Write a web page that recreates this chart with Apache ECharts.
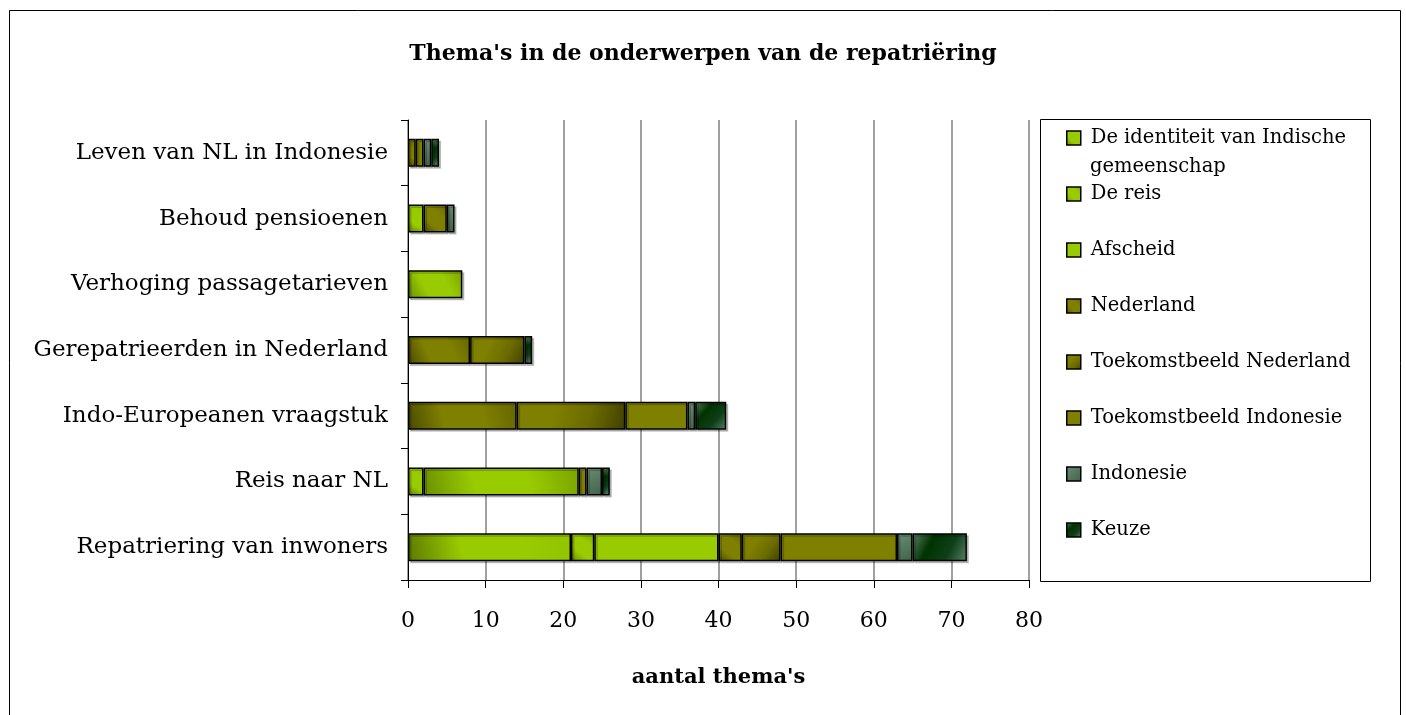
<!DOCTYPE html>
<html>
<head>
<meta charset="utf-8">
<script src="https://cdn.jsdelivr.net/npm/echarts@6/dist/echarts.min.js"></script>
<style>
  html, body { margin: 0; padding: 0; background: #fff; }
  #chart { width: 1406px; height: 715px; }
</style>
</head>
<body>
<div id="chart"></div>
<script>
// Onderwerpen (van onder naar boven)
const categories = [
  'Repatriering van inwoners',
  'Reis naar NL',
  'Indo-Europeanen vraagstuk',
  'Gerepatrieerden in Nederland',
  'Verhoging passagetarieven',
  'Behoud pensioenen',
  'Leven van NL in Indonesie'
];

// Aantal thema's per onderwerp, per thema (null = geen)
const identiteit     = [21,   2,    null, null, null, 2,    null];
const deReis         = [3,    20,   null, null, 7,    null, null];
const afscheid       = [16,   null, null, null, null, null, null];
const nederland      = [3,    null, 14,   8,    null, 3,    1];
const toekomstNL     = [5,    null, 14,   7,    null, null, null];
const toekomstIndo   = [15,   1,    8,    null, null, null, 1];
const indonesie      = [2,    2,    1,    null, null, 1,    1];
const keuze          = [7,    1,    4,    1,    null, null, 1];

const xTicks = { min: 0, max: 80, interval: 10 };

const serif = '"DejaVu Serif", "Liberation Serif", serif';

function grad(x, y, x2, y2, stops) {
  return new echarts.graphic.LinearGradient(x, y, x2, y2,
    stops.map((c, i) => ({ offset: i / (stops.length - 1), color: c })));
}

const seriesDefs = [
  { name: 'De identiteit van Indische gemeenschap', data: identiteit,
    color: grad(0, 1, 1, 0, ['#5c7a00', '#99cc00', '#99cc00', '#92c400']) },
  { name: 'De reis', data: deReis,
    color: grad(0, 1, 1, 0, ['#6b8f00', '#99cc00', '#99cc00', '#7aa300']) },
  { name: 'Afscheid', data: afscheid, color: '#99cc00' },
  { name: 'Nederland', data: nederland,
    color: grad(0, 1, 1, 0, ['#4a4a00', '#808000', '#808000', '#666600']) },
  { name: 'Toekomstbeeld Nederland', data: toekomstNL,
    color: grad(0, 0, 1, 1, ['#808000', '#808000', '#6b6b00', '#404000']) },
  { name: 'Toekomstbeeld Indonesie', data: toekomstIndo, color: '#808000' },
  { name: 'Indonesie', data: indonesie,
    color: grad(0, 0, 1, 1, ['#6a9076', '#54775d', '#40624a']) },
  { name: 'Keuze', data: keuze,
    color: grad(0, 0, 1, 1, ['#5a8266', '#003300', '#0e3f18', '#5a8266']) }
];

const series = seriesDefs.map(d => ({
  name: d.name,
  type: 'bar',
  stack: 'thema',
  barWidth: 28,
  data: d.data,
  itemStyle: {
    color: d.color,
    borderColor: '#000',
    borderWidth: 1.5,
    shadowColor: 'rgba(0,0,0,0.22)',
    shadowOffsetX: 2,
    shadowOffsetY: 2
  },
  emphasis: { disabled: true }
}));

const chart = echarts.init(document.getElementById('chart'), null, { renderer: 'canvas' });

chart.setOption({
  animation: false,
  backgroundColor: '#fff',
  title: {
    text: "Thema's in de onderwerpen van de repatriëring",
    left: 'center',
    top: 38,
    textStyle: { fontFamily: serif, fontSize: 22, fontWeight: 'bold', color: '#000' }
  },
  grid: { left: 408, right: 377, top: 120, bottom: 135, containLabel: false },
  xAxis: {
    type: 'value',
    min: xTicks.min,
    max: xTicks.max,
    interval: xTicks.interval,
    name: "aantal thema's",
    nameLocation: 'middle',
    nameGap: 87,
    nameTextStyle: { fontFamily: serif, fontSize: 21, fontWeight: 'bold', color: '#000' },
    axisLine: { show: true, lineStyle: { color: '#000', width: 1 } },
    axisTick: { show: true, inside: false, length: 8, lineStyle: { color: '#000' } },
    axisLabel: { fontFamily: serif, fontSize: 22, color: '#000', margin: 30 },
    splitLine: { show: true, lineStyle: { color: '#808080', width: 1.5 } }
  },
  yAxis: {
    type: 'category',
    data: categories,
    axisLine: { show: true, lineStyle: { color: '#000', width: 1 } },
    axisTick: { show: true, inside: false, length: 7, lineStyle: { color: '#000' } },
    axisLabel: { fontFamily: serif, fontSize: 23, color: '#000', margin: 20 },
    splitLine: { show: false }
  },
  legend: {
    orient: 'vertical',
    left: 1066,
    top: 127,
    padding: 0,
    itemWidth: 14,
    itemHeight: 14,
    itemGap: 34,
    icon: 'rect',
    selectedMode: false,
    formatter: name => name === 'De identiteit van Indische gemeenschap'
      ? 'De identiteit van Indische' : name,
    textStyle: { fontFamily: serif, fontSize: 19.5, color: '#000', lineHeight: 22, padding: [0, 0, 0, 5] },
    itemStyle: { borderColor: '#000', borderWidth: 1.5 }
  },
  graphic: [
    {
      type: 'rect',
      shape: { x: 9.5, y: 10.5, width: 1391, height: 720 },
      style: { fill: 'none', stroke: '#000', lineWidth: 1 },
      silent: true
    },
    {
      type: 'rect',
      shape: { x: 1040.5, y: 119.5, width: 330, height: 462 },
      style: { fill: 'none', stroke: '#000', lineWidth: 1 },
      silent: true
    },
    {
      type: 'text',
      left: 1090,
      top: 157,
      style: { text: 'gemeenschap', font: '19.5px ' + serif, fill: '#000' },
      silent: true
    }
  ],
  series: series
});
</script>
</body>
</html>
